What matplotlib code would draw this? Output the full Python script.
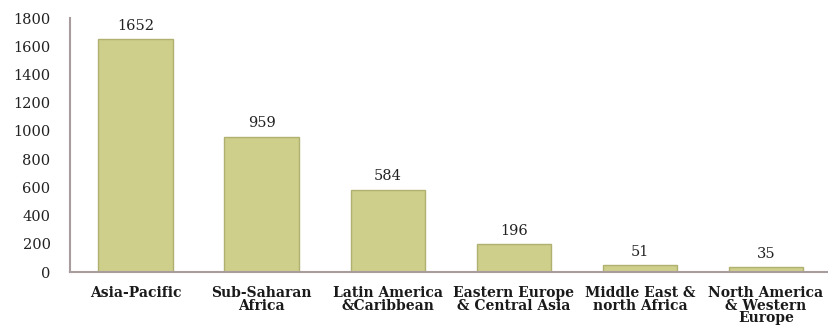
import numpy as np
import matplotlib.pyplot as plt

regions = ['Asia-Pacific', 'Sub-Saharan\nAfrica', 'Latin America\n&Caribbean',
           'Eastern Europe\n& Central Asia', 'Middle East &\nnorth Africa',
           'North America\n& Western\nEurope']
counts = [1652, 959, 584, 196, 51, 35]

plt.rcParams['font.family'] = ['DejaVu Serif']

fig = plt.figure(figsize=(8.29, 3.29), dpi=100)
ax = fig.add_axes([0.0844, 0.173, 0.9156, 0.772])

x = np.arange(len(counts))
bars = ax.bar(x, counts, width=0.59, color='#cfcf8c', edgecolor='#b0b070', linewidth=1.0)

for xi, v in zip(x, counts):
	ax.text(xi, v + 45, str(v), ha='center', va='bottom', fontsize=10.5, color='#222222')

ax.set_xlim(-0.52, len(counts) - 0.5)
ax.set_ylim(0, 1800)
ax.set_yticks(np.arange(0, 1801, 200))
ax.set_xticks(x)
ax.set_xticklabels(regions, fontsize=10, fontweight='bold', color='#1a1a1a', linespacing=0.88)
ax.tick_params(axis='y', length=0, labelsize=10.5, labelcolor='#222222', pad=14)
ax.tick_params(axis='x', length=0, pad=10)

for s in ['top', 'right']:
	ax.spines[s].set_visible(False)
for s in ['left', 'bottom']:
	ax.spines[s].set_color('#a89c9c')
	ax.spines[s].set_linewidth(1.5)

fig.savefig('out.png', dpi=100)
